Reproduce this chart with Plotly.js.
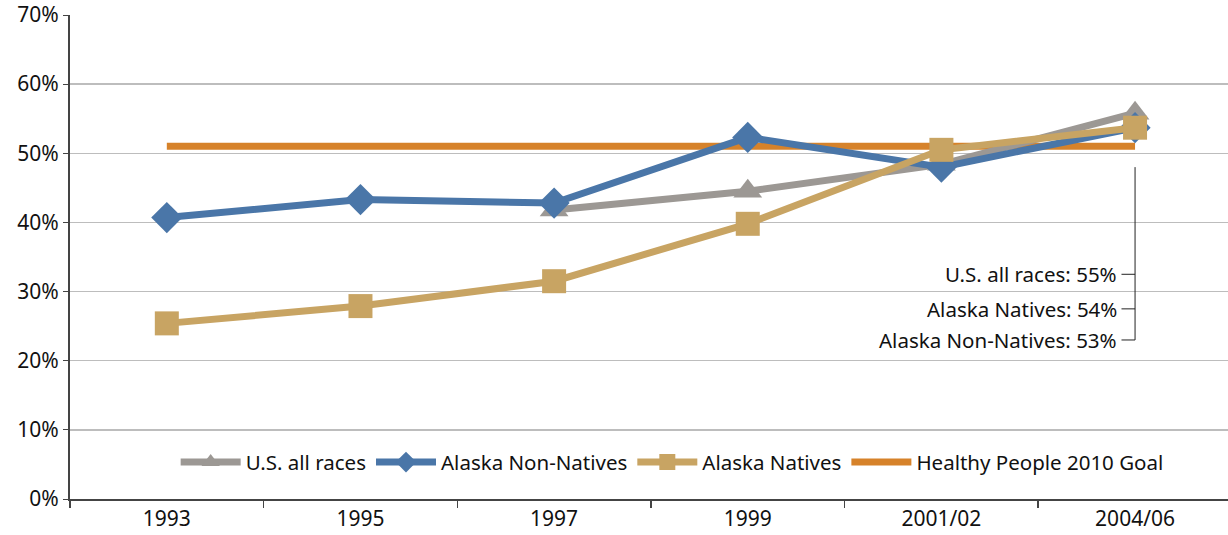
<!DOCTYPE html>
<html><head><meta charset="utf-8">
<script src="https://cdn.plot.ly/plotly-3.0.1.min.js"></script>
<style>html,body{margin:0;padding:0;background:#fff}#chart{width:1228px;height:535px}</style>
</head><body><div id="chart"></div>
<script>
var categories = ["1993","1995","1997","1999","2001/02","2004/06"];
var usAllRaces = [null, null, 41.8, 44.5, 48.4, 55.8];
var akNonNatives = [40.7, 43.3, 42.8, 52.3, 48.0, 53.7];
var akNatives = [25.4, 27.9, 31.5, 39.8, 50.5, 53.7];
var hp2010Goal = [51, 51, 51, 51, 51, 51];
var seriesNames = ["U.S. all races","Alaska Non-Natives","Alaska Natives","Healthy People 2010 Goal"];
var endLabels = ["U.S. all races: 55%","Alaska Natives: 54%","Alaska Non-Natives: 53%"];
var yTicks = [0,10,20,30,40,50,60,70];

var FONT = '"Noto Sans", "Open Sans", sans-serif';
var traces = [
  {x: categories, y: hp2010Goal, name: seriesNames[3], mode: 'lines', legendrank: 4,
   line: {color: '#D6822A', width: 7}},
  {x: categories, y: usAllRaces, name: seriesNames[0], mode: 'lines+markers', legendrank: 1,
   line: {color: '#9C9894', width: 7}, marker: {symbol: 'triangle-up', size: 25, color: '#9C9894'}},
  {x: categories, y: akNonNatives, name: seriesNames[1], mode: 'lines+markers', legendrank: 2,
   line: {color: '#4A76A8', width: 7}, marker: {symbol: 'diamond', size: 24, color: '#4A76A8'}},
  {x: categories, y: akNatives, name: seriesNames[2], mode: 'lines+markers', legendrank: 3,
   line: {color: '#C8A463', width: 7}, marker: {symbol: 'square', size: 24, color: '#C8A463'}}
];

var labelY = [32.5, 27.5, 23];
var annotations = endLabels.map(function(t, i){
  return {x: 5, y: labelY[i], xref: 'x', yref: 'y', text: t, showarrow: false,
    xanchor: 'right', yanchor: 'middle', xshift: -16, font: {family: FONT, size: 20.5, color: '#111'}};
});
var shapes = [{type: 'line', xref: 'x', yref: 'y', x0: 5, x1: 5, y0: 48, y1: 23, line: {color: '#222', width: 1}}];
labelY.forEach(function(v){
  shapes.push({type: 'line', xref: 'x', yref: 'y', x0: 4.93, x1: 5, y0: v, y1: v, line: {color: '#222', width: 1}});
});

var layout = {
  width: 1228, height: 535,
  margin: {l: 70, r: 0, t: 15, b: 36},
  paper_bgcolor: '#fff', plot_bgcolor: '#fff',
  font: {family: FONT, size: 20.5, color: '#111'},
  showlegend: true,
  legend: {orientation: 'h', x: 0.52, y: 0.076, xanchor: 'center', yanchor: 'middle',
    bgcolor: 'rgba(255,255,255,1)', font: {family: FONT, size: 20.5, color: '#111'}, itemwidth: 60},
  xaxis: {type: 'category', range: [-0.5, 5.48], showgrid: false, zeroline: false,
    showline: true, linecolor: '#444', linewidth: 2, ticks: 'outside', tickson: 'boundaries',
    ticklen: 7, tickcolor: '#444', tickwidth: 1.5, tickfont: {size: 21}, fixedrange: true},
  yaxis: {range: [0, 70], tickvals: yTicks, ticktext: yTicks.map(function(v){return v + '%';}),
    showgrid: true, gridcolor: '#BDBDBD', gridwidth: 1.5, zeroline: false,
    showline: true, linecolor: '#444', linewidth: 2, ticks: 'outside', ticklen: 5, tickcolor: '#444',
    tickfont: {size: 21}, fixedrange: true},
  annotations: annotations,
  shapes: shapes
};
Plotly.newPlot('chart', traces, layout, {displayModeBar: false, staticPlot: true});
</script></body></html>
